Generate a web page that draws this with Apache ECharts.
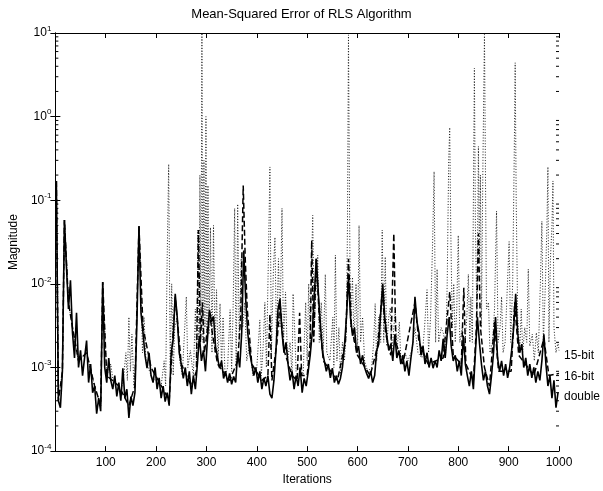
<!DOCTYPE html>
<html><head><meta charset="utf-8">
<script src="https://cdn.jsdelivr.net/npm/echarts@6/dist/echarts.min.js"></script>
<style>html,body{margin:0;padding:0;background:#fff}#c{width:603px;height:491px}</style>
</head><body><div id="c"></div>
<script>
const chartTitle = 'Mean-Squared Error of RLS Algorithm';
const xName = 'Iterations';
const yName = 'Magnitude';
const seriesNames = ['15-bit', '16-bit', 'double'];

// double precision: one sample every 4 iterations, starting at iteration 2
const doubleStart = 2, doubleStep = 4;
const doubleVals = [
0.17,4e-4,3.3e-4,9e-4,0.058,0.016,5e-3,0.011,2.6e-3,1.3e-3,
4.5e-3,1e-3,1.6e-3,8e-4,1.3e-3,2.1e-3,6.6e-4,1.1e-3,5e-4,6e-4,
2.8e-4,4.3e-4,3e-4,0.0105,1e-3,6.6e-4,1.3e-3,7e-4,5.5e-4,8e-4,
4.5e-4,6.6e-4,4e-4,9.8e-4,4.3e-4,5.5e-4,2.5e-4,4.5e-4,3.5e-4,5e-4,
3.6e-3,0.049,4.5e-3,2.6e-3,1.4e-3,9.8e-4,1.5e-3,8e-4,6.6e-4,1e-3,
5.5e-4,7.5e-4,4.3e-4,6e-4,3.9e-4,5e-4,3.5e-4,1.5e-3,2.2e-3,7.6e-3,
4e-3,1.5e-3,1.1e-3,7.4e-4,1e-3,6e-4,9e-4,4.8e-4,8e-4,5.5e-4,
1.1e-3,2.4e-3,1.2e-3,1.6e-3,9e-4,2.2e-3,4.9e-3,3.5e-3,4.1e-3,1.8e-3,
1.3e-3,9.8e-4,1.2e-3,7.4e-4,9e-4,6.6e-4,8.5e-4,6.3e-4,7.8e-4,6.6e-4,
1.5e-3,1e-3,2.6e-3,0.025,6.4e-3,2.6e-3,1.5e-3,1.1e-3,8e-4,1e-3,
6.6e-4,9e-4,5.5e-4,7.5e-4,6e-4,8e-4,4.8e-4,4.3e-4,7e-4,1.6e-3,
4.9e-3,6.6e-3,2.6e-3,1.5e-3,2e-3,1.1e-3,7e-4,9e-4,5.5e-4,8e-4,
6e-4,1e-3,5e-4,7.4e-4,6e-4,9e-4,1.4e-3,2.6e-3,7e-3,0.02,
8e-3,3.5e-3,1.6e-3,1.2e-3,9e-4,1.1e-3,7.5e-4,9.8e-4,6.6e-4,8e-4,
6.3e-4,7.4e-4,1e-3,1.8e-3,4e-3,0.012,4e-3,2.4e-3,3e-3,1.5e-3,
1.8e-3,1.1e-3,1.4e-3,1e-3,8.5e-4,7.4e-4,9e-4,6.6e-4,8e-4,1.6e-3,
1.9e-3,4.5e-3,0.01,4e-3,2.4e-3,1.6e-3,1.9e-3,1.2e-3,2.5e-3,1.3e-3,
1.6e-3,1.1e-3,1.4e-3,9e-4,1.2e-3,8e-4,1.3e-3,2e-3,7e-3,3.5e-3,
2.6e-3,1.4e-3,1.8e-3,1.1e-3,1.5e-3,1e-3,1.3e-3,9.8e-4,1.2e-3,1e-3,
1.6e-3,1.2e-3,2.2e-3,1.3e-3,2.5e-3,4e-3,1.8e-3,1.2e-3,1.4e-3,9e-4,
1.2e-3,8e-4,2.4e-3,1.1e-3,8e-4,6e-4,9e-4,5.5e-4,1.5e-3,4e-3,
2e-3,1.1e-3,7e-4,9e-4,6e-4,4.8e-4,8e-4,1.5e-3,4e-3,1.3e-3,
9e-4,1.2e-3,8e-4,1.1e-3,7.5e-4,1e-3,1.6e-3,3e-3,7.6e-3,2.6e-3,
1.5e-3,1.9e-3,1e-3,1.3e-3,8e-4,1.1e-3,7.5e-4,1e-3,6.6e-4,9e-4,
7e-4,1.2e-3,2.5e-3,1.1e-3,6e-4,8e-4,4.3e-4,7e-4,3.3e-4,5e-4
];

// 16-bit fixed point: [iteration, MSE]
const bit16 = [
[2,0.17],[6,4e-4],[14,9e-4],[18,0.058],[26,6e-3],[34,3e-3],[46,1.2e-3],[62,1.5e-3],[78,6e-4],[90,3.5e-4],
[94,0.0105],[102,8e-4],[126,6e-4],[146,3.5e-4],[158,6e-4],[166,0.049],[174,3e-3],[190,1e-3],[214,5.5e-4],[226,4e-4],
[238,7e-3],[250,1.1e-3],[270,6e-4],[280,9e-4],[284,0.044],[288,2e-3],[292,6e-3],[296,1.5e-3],[306,4.5e-3],[312,2.5e-3],
[322,1.1e-3],[346,7e-4],[362,1.2e-3],[368,4e-3],[373,0.15],[377,0.02],[381,5e-3],[390,1.1e-3],[410,7e-4],[422,8e-4],
[426,4.3e-3],[430,7e-4],[440,2e-3],[446,6e-3],[454,1.6e-3],[470,8e-4],[480,7e-4],[485,4.5e-3],[489,8e-4],[500,8e-4],
[506,2e-3],[509,0.033],[513,2e-3],[518,0.02],[524,4e-3],[532,1.2e-3],[560,7e-4],[576,2e-3],[582,0.02],[588,3e-3],
[600,1.4e-3],[625,8e-4],[640,1.8e-3],[649,8e-3],[656,2.5e-3],[666,1.4e-3],[672,0.04],[676,2e-3],[690,1.1e-3],[714,6e-3],
[722,2e-3],[740,1.1e-3],[770,1.3e-3],[783,8e-3],[790,1.4e-3],[806,1.1e-3],[811,9e-3],[815,1.1e-3],[830,7e-4],[836,3e-3],
[840,0.04],[844,3e-3],[852,1e-3],[862,6e-4],[872,3.5e-3],[880,9e-4],[905,9e-4],[912,6e-3],[920,1.4e-3],[950,8e-4],
[970,2.2e-3],[980,8e-4],[1000,8.5e-4]
];

// 15-bit fixed point: [iteration, MSE]
const bit15 = [
[2,0.17],[6,4e-4],[14,9e-4],[18,0.058],[26,6e-3],[34,3e-3],[46,1.2e-3],[62,1.5e-3],[78,6e-4],[90,3.5e-4],
[94,0.0105],[102,8e-4],[110,1.1e-3],[116,6e-4],[130,5e-4],[136,8e-4],[140,1.5e-3],[143,7e-4],[146,4e-3],[149,9e-4],
[152,2.5e-3],[156,6e-4],[160,1.5e-3],[166,0.049],[170,8e-3],[173,1.5e-3],[176,4e-3],[180,1.2e-3],[190,8e-4],[210,6e-4],
[216,1.2e-3],[219,6e-4],[222,0.02],[225,0.27],[228,1e-3],[231,0.01],[234,8e-4],[237,3e-3],[242,4e-3],[247,1.2e-3],
[252,8e-4],[260,7e-3],[263,1e-3],[268,1.6e-3],[274,8e-4],[278,5e-3],[281,1e-3],[283,0.044],[285,2e-3],[287,0.2],
[289,3e-3],[291,10],[293,2e-3],[295,0.3],[297,3e-3],[299,1.0],[301,2e-3],[303,0.15],[305,2.5e-3],[308,0.047],
[311,1.5e-3],[314,0.05],[317,1.5e-3],[320,8.5e-3],[323,1.2e-3],[327,5.8e-3],[330,1e-3],[333,4e-3],[337,8e-4],[342,1e-3],
[347,4.9e-3],[350,9e-4],[353,5.4e-3],[356,0.08],[359,1e-3],[362,0.09],[365,2e-3],[369,0.02],[372,3e-3],[376,6e-3],
[380,1.2e-3],[386,2e-3],[392,8e-4],[400,1e-3],[406,3.7e-3],[409,8e-4],[413,2e-3],[416,6e-3],[419,1e-3],[423,0.02],
[426,0.25],[429,1.5e-3],[433,0.015],[436,0.036],[439,2e-3],[443,0.02],[446,3e-3],[450,0.08],[453,2e-3],[457,8e-3],
[461,1.2e-3],[466,2e-3],[470,8e-4],[472,7.6e-3],[475,3e-3],[478,9e-4],[486,1e-3],[492,8e-4],[497,6e-3],[500,1.2e-3],
[503,0.01],[506,2e-3],[509,0.02],[511,0.066],[514,3e-3],[518,0.01],[521,0.022],[524,2e-3],[528,6e-3],[532,1.5e-3],
[536,0.013],[539,1.5e-3],[545,1.2e-3],[551,4e-3],[553,1e-3],[556,0.022],[559,1.2e-3],[563,3e-3],[566,8e-4],[570,2e-3],
[574,1.2e-3],[578,3e-3],[580,0.05],[582,9.5],[584,0.1],[586,3e-3],[590,0.012],[593,2e-3],[597,0.01],[600,1.5e-3],
[603,0.05],[606,2e-3],[610,4e-3],[614,1.2e-3],[620,9e-4],[628,1e-3],[632,2e-3],[635,5.8e-3],[638,1.2e-3],[642,4e-3],
[646,2e-3],[649,0.044],[652,2e-3],[655,0.021],[658,1.8e-3],[662,4e-3],[665,5.2e-3],[668,1.5e-3],[675,5e-3],[678,1.5e-3],
[683,3.5e-3],[686,1.2e-3],[694,1.5e-3],[700,1.2e-3],[708,1.6e-3],[714,3e-3],[720,1.5e-3],[728,1.3e-3],[733,3e-3],[738,8.5e-3],
[741,1.5e-3],[745,4e-3],[749,0.03],[752,0.22],[755,2e-3],[758,0.015],[761,2e-3],[766,3e-3],[771,2.5e-3],[775,1.5e-3],
[778,0.01],[781,0.3],[783,0.74],[785,0.05],[788,3e-3],[791,0.01],[794,2e-3],[797,5e-3],[800,0.038],[803,2e-3],
[808,3e-3],[812,1.5e-3],[817,4e-3],[820,0.013],[823,2e-3],[825,7e-3],[828,2e-3],[830,0.1],[832,3.8],[834,0.05],
[837,4e-3],[840,0.44],[842,0.02],[844,0.2],[846,3e-3],[849,0.3],[852,9.6],[854,0.2],[856,5e-3],[860,6e-3],
[863,1.5e-3],[868,2e-3],[872,5e-3],[874,0.02],[876,0.074],[879,2e-3],[883,3e-3],[886,7e-3],[889,1.5e-3],[893,2e-3],
[897,8e-3],[901,0.032],[904,2e-3],[908,0.01],[911,0.3],[913,4.4],[915,0.1],[918,4e-3],[922,1.5e-3],[925,5e-3],
[928,1.5e-3],[932,3e-3],[936,2e-3],[939,0.015],[942,1.8e-3],[947,2.5e-3],[951,1.2e-3],[955,2.6e-3],[959,1.5e-3],[963,0.01],
[966,0.056],[969,2e-3],[973,0.01],[976,0.05],[978,0.25],[980,2e-3],[983,0.02],[986,0.05],[988,0.17],[990,3e-3],
[994,1.5e-3],[998,2e-3],[1000,1.6e-3]
];

// axis settings
const xMin = 0, xMax = 1000, xInterval = 100;
const yMin = 1e-4, yMax = 10;
const minorMantissas = [2, 3, 4, 5, 6, 7, 8, 9];
const decadeExps = [-4, -3, -2, -1, 0];

const FONT = 'Liberation Sans, Arial, sans-serif';
const doubleData = doubleVals.map((v, i) => [doubleStart + i * doubleStep, v]);
const minorTicks = [];
decadeExps.forEach(e => minorMantissas.forEach(m => minorTicks.push([xMin, m * Math.pow(10, e)])));

const chart = echarts.init(document.getElementById('c'), null, {renderer: 'canvas'});

const tickStyle = {show: true, inside: true, length: 5, lineStyle: {color: '#000', width: 1}};
const lineStyleAxis = {show: true, lineStyle: {color: '#000', width: 1}};

chart.setOption({
  animation: false,
  backgroundColor: '#fff',
  title: {
    text: chartTitle, left: 'center', top: 3,
    textStyle: {fontFamily: FONT, fontSize: 13, fontWeight: 'normal', color: '#000'}
  },
  grid: {left: 51, right: 44, top: 33, bottom: 34, containLabel: false},
  xAxis: [{
    type: 'value', min: xMin, max: xMax, interval: xInterval, position: 'bottom',
    axisLine: lineStyleAxis, axisTick: tickStyle, splitLine: {show: false},
    axisLabel: {color: '#000', fontFamily: FONT, fontSize: 12, margin: 6,
      formatter: v => v === 0 ? '' : String(v)},
    name: xName, nameLocation: 'middle', nameGap: 21,
    nameTextStyle: {color: '#000', fontFamily: FONT, fontSize: 12}
  }, {
    type: 'value', min: xMin, max: xMax, interval: xInterval, position: 'top',
    axisLine: lineStyleAxis, axisTick: tickStyle, splitLine: {show: false},
    axisLabel: {show: false}
  }],
  yAxis: [{
    type: 'log', logBase: 10, min: yMin, max: yMax, position: 'left',
    axisLine: lineStyleAxis, axisTick: tickStyle, splitLine: {show: false},
    axisLabel: {
      color: '#000', fontFamily: FONT, margin: 4,
      formatter: v => '{b|10}{s|' + Math.round(Math.log10(v)) + '}',
      rich: {
        b: {fontFamily: FONT, fontSize: 12, color: '#000', lineHeight: 14},
        s: {fontFamily: FONT, fontSize: 8, color: '#000', lineHeight: 14, padding: [0, 0, 9, 0]}
      }
    },
    name: yName, nameLocation: 'middle', nameGap: 33,
    nameTextStyle: {color: '#000', fontFamily: FONT, fontSize: 12}
  }, {
    type: 'log', logBase: 10, min: yMin, max: yMax, position: 'right',
    axisLine: lineStyleAxis, axisTick: tickStyle, splitLine: {show: false},
    axisLabel: {show: false}
  }],
  series: [{
    name: seriesNames[0], type: 'line', data: bit15, showSymbol: false, symbol: 'none',
    xAxisIndex: 0, yAxisIndex: 0, z: 2,
    lineStyle: {color: '#222', width: 1, type: [1, 1.8]}
  }, {
    name: seriesNames[1], type: 'line', data: bit16, showSymbol: false, symbol: 'none',
    xAxisIndex: 0, yAxisIndex: 0, z: 3,
    lineStyle: {color: '#000', width: 1.5, type: [6, 3]}
  }, {
    name: seriesNames[2], type: 'line', data: doubleData, showSymbol: false, symbol: 'none',
    xAxisIndex: 0, yAxisIndex: 0, z: 4,
    lineStyle: {color: '#000', width: 1.6}
  }, {
    type: 'custom', data: minorTicks, xAxisIndex: 0, yAxisIndex: 0, silent: true, clip: false, z: 5,
    renderItem: function (params, api) {
      const v = api.value(1);
      const l = api.coord([xMin, v]);
      const r = api.coord([xMax, v]);
      return {type: 'group', children: [
        {type: 'line', shape: {x1: l[0], y1: l[1], x2: l[0] + 3, y2: l[1]}, style: {stroke: '#000', lineWidth: 1}},
        {type: 'line', shape: {x1: r[0] - 3, y1: r[1], x2: r[0], y2: r[1]}, style: {stroke: '#000', lineWidth: 1}}
      ]};
    }
  }],
  graphic: [
    {type: 'text', left: 564, top: 350, style: {text: seriesNames[0], fontFamily: FONT, fontSize: 12, fill: '#000'}},
    {type: 'text', left: 564, top: 371, style: {text: seriesNames[1], fontFamily: FONT, fontSize: 12, fill: '#000'}},
    {type: 'text', left: 564, top: 391, style: {text: seriesNames[2], fontFamily: FONT, fontSize: 12, fill: '#000'}}
  ]
});
</script>
</body></html>
